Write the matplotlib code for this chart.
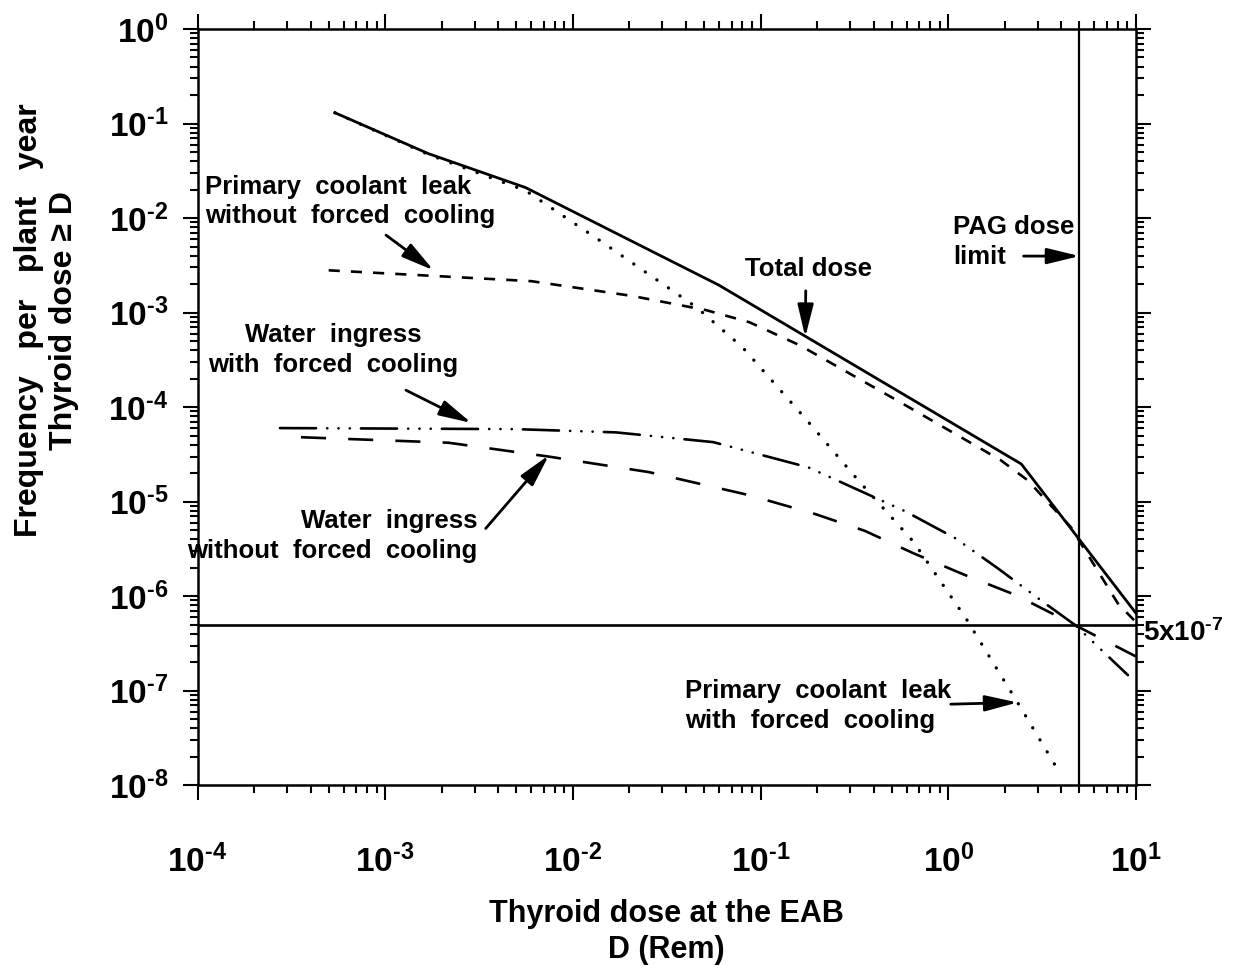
import matplotlib
matplotlib.use("Agg")
import matplotlib.pyplot as plt
import numpy as np
from matplotlib.ticker import LogLocator, NullFormatter, FuncFormatter

plt.rcParams["font.family"] = ["Liberation Sans", "DejaVu Sans"]
plt.rcParams["font.weight"] = "bold"
plt.rcParams["axes.labelweight"] = "bold"
plt.rcParams["mathtext.fontset"] = "custom"
plt.rcParams["mathtext.rm"] = "Liberation Sans:bold"
plt.rcParams["mathtext.bf"] = "Liberation Sans:bold"
plt.rcParams["mathtext.it"] = "Liberation Sans:bold:italic"
plt.rcParams["mathtext.default"] = "regular"
plt.rcParams["lines.scale_dashes"] = False

# curves (dose in rem, frequency per plant year)
total_x = [5.4e-4, 1.7e-3, 5.6e-3, 0.06, 2.45, 10]
total_y = [0.13, 0.048, 0.021, 1.95e-3, 2.5e-5, 6.6e-7]

pcl_nofc_x = [5e-4, 1.76e-3, 6e-3, 0.0207, 0.0514, 0.0873, 0.162, 0.553, 1.9, 2.64, 4.49, 8.0, 10]
pcl_nofc_y = [2.8e-3, 2.45e-3, 2.15e-3, 1.5e-3, 1.06e-3, 7.9e-4, 4.5e-4, 1.13e-4, 2.75e-5, 1.69e-5,
              5.4e-6, 8.4e-7, 5.3e-7]

pcl_fc_x = [5.4e-4, 1.7e-3, 5.6e-3, 0.0138, 0.0455, 0.080, 0.176, 0.334, 0.65, 1.25, 1.74, 2.34, 3.97]
pcl_fc_y = [0.13, 0.047, 0.0195, 5.85e-3, 1.14e-3, 4.3e-4, 7.3e-5, 1.65e-5, 3.8e-6, 5.7e-7, 1.95e-7,
            7.5e-8, 1.3e-8]

wi_fc_x = [2.75e-4, 4.95e-3, 0.017, 0.056, 0.18, 0.59, 1.09, 1.83, 3.1, 4.77, 9.06]
wi_fc_y = [6.0e-5, 5.85e-5, 5.4e-5, 4.26e-5, 2.3e-5, 7.9e-6, 4.1e-6, 1.98e-6, 9.1e-7, 4.9e-7, 1.46e-7]

wi_nofc_x = [3.56e-4, 2.17e-3, 7.4e-3, 0.0255, 0.087, 0.195, 0.36, 0.65, 1.23, 2.28, 4.77, 10]
wi_nofc_y = [4.8e-5, 4.2e-5, 3.0e-5, 2.05e-5, 1.17e-5, 7.4e-6, 4.9e-6, 2.85e-6, 1.67e-6, 1.03e-6,
             4.9e-7, 2.3e-7]

pag_dose = 5.0
freq_limit = 5e-7


def decade_label(v, pos):
    e = int(round(np.log10(v)))
    if e < 0:
        return r"$10^{\text{-}%d}$" % (-e)
    return r"$10^{%d}$" % e


fig = plt.figure(figsize=(12.58, 9.67), dpi=100)
ax = fig.add_axes([0.157, 0.188, 0.746, 0.782])
ax.set_xscale("log")
ax.set_yscale("log")
ax.set_xlim(1e-4, 10)
ax.set_ylim(1e-8, 1)

ax.plot(total_x, total_y, color="black", lw=2.0)
ax.plot(pcl_nofc_x, pcl_nofc_y, color="black", lw=1.9, dashes=(8, 8))
ax.plot(pcl_fc_x, pcl_fc_y, color="black", lw=2.4, dashes=(0.1, 10), dash_capstyle="round")
ax.plot(wi_fc_x, wi_fc_y, color="black", lw=1.9,
        dashes=(26, 8, 0.1, 8, 0.1, 8, 0.1, 8), dash_capstyle="round")
ax.plot(wi_nofc_x, wi_nofc_y, color="black", lw=1.9, dashes=(18, 16))

ax.axvline(pag_dose, color="black", lw=1.6)
ax.axhline(freq_limit, color="black", lw=1.9)

for s in ax.spines.values():
    s.set_linewidth(1.8)

ax.xaxis.set_major_locator(LogLocator(base=10, numticks=20))
ax.yaxis.set_major_locator(LogLocator(base=10, numticks=20))
ax.xaxis.set_minor_locator(LogLocator(base=10, subs=range(2, 10), numticks=20))
ax.yaxis.set_minor_locator(LogLocator(base=10, subs=range(2, 10), numticks=20))
ax.xaxis.set_major_formatter(FuncFormatter(decade_label))
ax.yaxis.set_major_formatter(FuncFormatter(decade_label))
ax.xaxis.set_minor_formatter(NullFormatter())
ax.yaxis.set_minor_formatter(NullFormatter())
ax.tick_params(which="both", direction="out", top=True, right=True, width=1.5)
ax.tick_params(which="major", length=11, labelsize=24)
ax.tick_params(which="minor", length=5.5)
ax.tick_params(axis="x", which="major", pad=32)
ax.tick_params(axis="y", which="major", pad=10)

ax.set_xlabel("Thyroid dose at the EAB\nD (Rem)", fontsize=22, labelpad=14, linespacing=1.25)
ax.set_ylabel("Frequency   per   plant   year\nThyroid dose \u2265 D", fontsize=23,
              linespacing=1.25)
ax.yaxis.set_label_coords(-0.126, 0.615)

arrow = dict(arrowstyle="-|>,head_length=0.9,head_width=0.22", color="black", lw=2,
             shrinkA=0, shrinkB=0, mutation_scale=22)
txt = dict(fontsize=18.5, color="black", linespacing=1.3)

ax.text(1.1e-4, 1.5e-2, "Primary  coolant  leak\nwithout  forced  cooling", ha="left", va="center", **txt)
ax.annotate("", xy=(1.81e-3, 2.8e-3), xytext=(1.01e-3, 6.6e-3), arrowprops=arrow)

ax.text(0.18, 2.9e-3, "Total dose", ha="center", va="center", **txt)
ax.annotate("", xy=(0.173, 5.5e-4), xytext=(0.174, 1.7e-3), arrowprops=arrow)

ax.text(1.06, 5.6e-3, "PAG dose\nlimit", ha="left", va="center", **txt)
ax.annotate("", xy=(pag_dose, 3.96e-3), xytext=(2.52, 3.96e-3), arrowprops=arrow)

ax.text(5.3e-4, 4.0e-4, "Water  ingress\nwith  forced  cooling", ha="center", va="center", **txt)
ax.annotate("", xy=(2.88e-3, 6.8e-5), xytext=(1.29e-3, 1.51e-4), arrowprops=arrow)

ax.text(3.1e-3, 4.3e-6, "Water  ingress\nwithout  forced  cooling", ha="right", va="center", **txt)
ax.annotate("", xy=(7.45e-3, 3.1e-5), xytext=(3.43e-3, 5.2e-6), arrowprops=arrow)

ax.text(0.0397, 6.9e-8, "Primary  coolant  leak\nwith  forced  cooling", ha="left", va="center", **txt)
ax.annotate("", xy=(2.34, 7.5e-8), xytext=(1.03, 7.2e-8), arrowprops=arrow)

ax.text(10.9, 4.1e-7, r"5x10$^{\text{-}7}$", ha="left", va="center", fontsize=20)

fig.savefig("out.png", dpi=100)
